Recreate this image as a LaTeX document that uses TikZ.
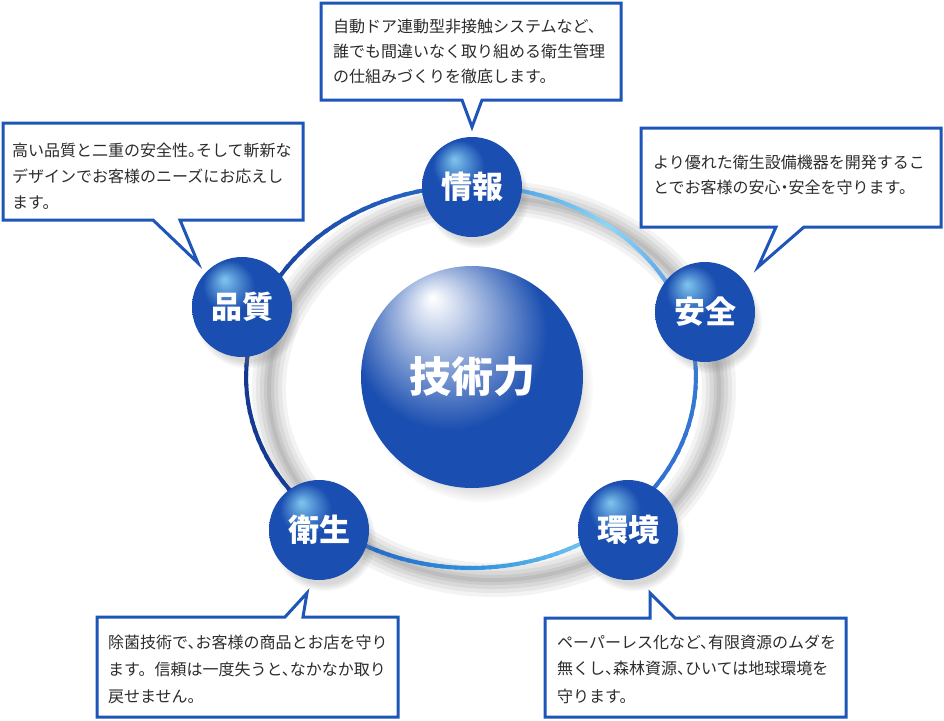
\documentclass[tikz,border=0pt]{standalone}
\usepackage{fontspec}
\newfontfamily\jp{Noto Sans CJK JP}
\usetikzlibrary{shadows,fadings}
\definecolor{cbord}{HTML}{1D55B8}
\definecolor{txtc}{HTML}{2C2C2C}
\definecolor{sphmain}{HTML}{1A4EB0}
\definecolor{sphdark}{HTML}{0E3590}
\definecolor{sphhl}{HTML}{8FD8F8}
\definecolor{rA}{HTML}{3A8EE0}
\definecolor{rL}{HTML}{8AD8F8}
\definecolor{rB}{HTML}{4A8EE0}
\definecolor{rC}{HTML}{3A7CD6}
\definecolor{rD}{HTML}{2E6ED0}
\definecolor{rM}{HTML}{2F90DC}
\definecolor{rN}{HTML}{1C55BA}
\definecolor{rP}{HTML}{163C95}
\definecolor{rQ}{HTML}{12378F}
\definecolor{rR}{HTML}{163D9A}
\definecolor{rS}{HTML}{2A6CCC}
\pgfdeclareradialshading{smallsph}{\pgfpoint{-9bp}{14bp}}{color(0bp)=(sphhl!85!sphmain); color(1bp)=(sphhl!80!sphmain); color(6bp)=(sphmain!55!sphhl); color(13bp)=(sphmain); color(40bp)=(sphmain); color(50bp)=(sphdark)}
\pgfdeclareradialshading{bigsph}{\pgfpoint{-9bp}{18bp}}{color(0bp)=(white); color(2bp)=(white!92!sphmain); color(10bp)=(sphmain!45!white); color(22bp)=(sphmain); color(44bp)=(sphmain); color(50bp)=(sphdark!70!sphmain)}
\newcommand\ringpart[4]{%
  \foreach \i in {0,...,23}{%
    \pgfmathsetmacro\ta{#1+(#2-#1)*\i/24}%
    \pgfmathsetmacro\tb{#1+(#2-#1)*(\i+1.4)/24}%
    \pgfmathsetmacro\pp{100*(\i+0.5)/24}%
    \colorlet{rc}{#4!\pp!#3}%
    \draw[rc,line width=4pt] ({471+225*cos(\ta)},{377-191*sin(\ta)}) -- ({471+225*cos(\tb)},{377-191*sin(\tb)});
  }}
\begin{document}
\begin{tikzpicture}[x=1pt,y=-1pt,
  sph/.style={circle,minimum size=100pt,inner sep=0pt,shading=smallsph,
    circular drop shadow={shadow xshift=5pt,shadow yshift=-9pt,opacity=0.3,shadow scale=1.04}},
  bigball/.style={circle,minimum size=222pt,inner sep=0pt,shading=bigsph,
    circular drop shadow={shadow xshift=8pt,shadow yshift=-12pt,opacity=0.3,shadow scale=1.02}},
  lbl/.style={text=white,font=\jp\bfseries\fontsize{31}{31}\selectfont,inner sep=0pt},
  biglbl/.style={text=white,font=\jp\bfseries\fontsize{42}{42}\selectfont,inner sep=0pt},
  callout/.style={fill=white,draw=cbord,line width=3pt,line join=miter},
  txt/.style={font=\jp\fontsize{16}{16}\selectfont,text=txtc,inner sep=0pt,anchor=base west}]
\fill[white] (0,0) rectangle (944,720);
\useasboundingbox (0,0) rectangle (944,720);
% ring shadow
\foreach \w/\o in {34/0.05,26/0.06,18/0.07,10/0.08,4/0.08}{
  \draw[black!85,line width=\w pt,opacity=\o] (494,389) ellipse [x radius=225,y radius=191];
}
% ring
\ringpart{90}{52}{rA}{rL}
\ringpart{52}{20}{rL}{rB}
\ringpart{20}{-48}{rC}{rD}
\ringpart{-48}{-90}{rL}{rM}
\ringpart{-90}{-132}{rM}{rN}
\ringpart{-132}{-200}{rP}{rQ}
\ringpart{160}{90}{rR}{rS}
% spheres
\node[bigball] (core) at (472,377) {};
\node[sph] (joho) at (472,187) {};
\node[sph] (anzen) at (705,312) {};
\node[sph] (hinshitsu) at (242,307) {};
\node[sph] (eisei) at (319,530) {};
\node[sph] (kankyo) at (628,530) {};
% labels
\node[biglbl] (coreT) at (core.center) {技術力};
\node[lbl] (johoT) at (joho.center) {情報};
\node[lbl] (anzenT) at (anzen.center) {安全};
\node[lbl] (hinT) at (hinshitsu.center) {品質};
\node[lbl] (eiT) at (eisei.center) {衛生};
\node[lbl] (kanT) at (kankyo.center) {環境};
% callouts
\draw[callout] (321,3) -- (621,3) -- (621,100) -- (482,100) -- (472,127) -- (462,100) -- (321,100) -- cycle;
\draw[callout] (3,123) -- (303,123) -- (303,220) -- (180,220) -- (198,263) -- (153,220) -- (3,220) -- cycle;
\draw[callout] (641,128) -- (941,128) -- (941,227) -- (804,227) -- (758,267) -- (776,227) -- (641,227) -- cycle;
\draw[callout] (97,617) -- (285,617) -- (307,593) -- (303,617) -- (398,617) -- (398,717) -- (97,717) -- cycle;
\draw[callout] (545,618) -- (650,618) -- (650,593) -- (675,618) -- (846,618) -- (846,717) -- (545,717) -- cycle;
% callout texts
\node[txt] (t1a) at (333,32) {自動ドア連動型非接触システムなど、};
\node[txt] (t1b) at (333,57) {誰でも間違いなく取り組める衛生管理};
\node[txt] (t1c) at (333,82) {の仕組みづくりを徹底します。};
\node[txt] (t2a) at (12,156) {高い品質と二重の安全性。\kern-0.5em そして斬新な};
\node[txt] (t2b) at (12,182) {デザインでお客様のニーズにお応えし};
\node[txt] (t2c) at (12,208) {ます。};
\node[txt] (t3a) at (653,168) {より優れた衛生設備機器を開発するこ};
\node[txt] (t3b) at (653,193) {とでお客様の安心\kern-0.25em・\kern-0.25em 安全を守ります。};
\node[txt] (t4a) at (108,648) {除菌技術で、\kern-0.5em お客様の商品とお店を守り};
\node[txt] (t4b) at (108,675) {ます。信頼は一度失うと、\kern-0.5em なかなか取り};
\node[txt] (t4c) at (108,702) {戻せません。};
\node[txt] (t5a) at (557,648) {ペーパーレス化など、\kern-0.5em 有限資源のムダを};
\node[txt] (t5b) at (557,674) {無くし、\kern-0.5em 森林資源、\kern-0.5em ひいては地球環境を};
\node[txt] (t5c) at (557,702) {守ります。};
\end{tikzpicture}
\end{document}
